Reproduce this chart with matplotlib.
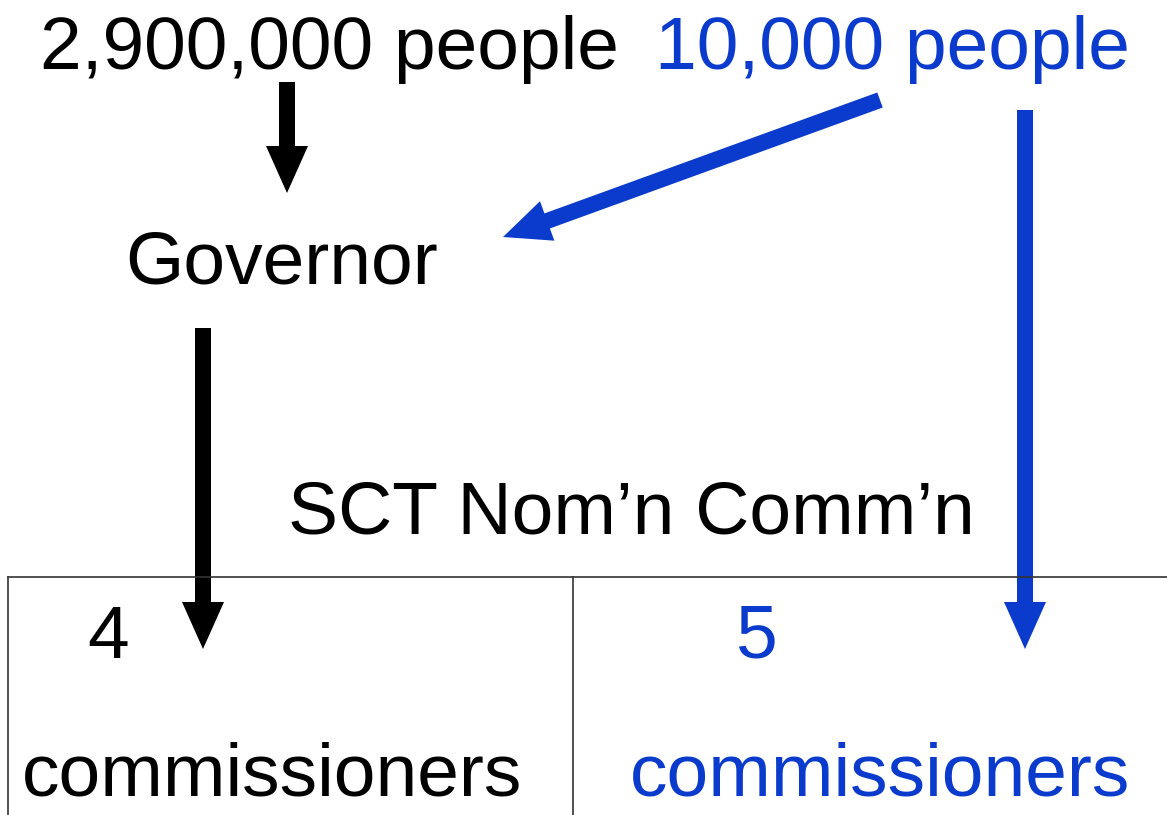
import matplotlib.pyplot as plt
from matplotlib.patches import FancyArrow

plt.rcParams['font.family'] = ['Liberation Sans', 'DejaVu Sans']

BLACK = 'black'
BLUE = '#0b3bcc'

# texts of the diagram
state_label = '2,900,000 people'
city_label = '10,000 people'
governor_label = 'Governor'
commission_label = 'SCT Nom\u2019n Comm\u2019n'
state_seats = '4'
city_seats = '5'
seat_word = 'commissioners'

W, H = 1167, 815
fig = plt.figure(figsize=(W / 100, H / 100), dpi=100)
ax = fig.add_axes([0, 0, 1, 1])
ax.set_xlim(0, W)
ax.set_ylim(H, 0)
ax.axis('off')

fs = 54
ax.text(40, 69, state_label, color=BLACK, fontsize=fs, va='baseline', ha='left')
ax.text(655, 69, city_label, color=BLUE, fontsize=fs, va='baseline', ha='left')
ax.text(125, 283, governor_label, color=BLACK, fontsize=fs, va='baseline', ha='left')
ax.text(288, 533, commission_label, color=BLACK, fontsize=fs, va='baseline', ha='left')
ax.text(108, 658, state_seats, color=BLACK, fontsize=fs, va='baseline', ha='center')
ax.text(757, 658, city_seats, color=BLUE, fontsize=fs, va='baseline', ha='center')
ax.text(22, 795, seat_word, color=BLACK, fontsize=fs, va='baseline', ha='left')
ax.text(630, 795, seat_word, color=BLUE, fontsize=fs, va='baseline', ha='left')

# table lines
ax.plot([8, W], [577, 577], color='#333333', lw=1.2)
ax.plot([8, 8], [577, H], color='#333333', lw=1.2)
ax.plot([573, 573], [577, H], color='#333333', lw=1.2)


def arrow(x0, y0, x1, y1, color):
    ax.add_patch(FancyArrow(x0, y0, x1 - x0, y1 - y0, width=16, head_width=42,
                            head_length=47, length_includes_head=True,
                            color=color, lw=0))


arrow(287, 82, 287, 193, BLACK)
arrow(203, 328, 203, 649, BLACK)
arrow(880, 100, 503, 237, BLUE)
arrow(1025, 110, 1025, 649, BLUE)

fig.savefig('out.png', dpi=100, facecolor='white')
